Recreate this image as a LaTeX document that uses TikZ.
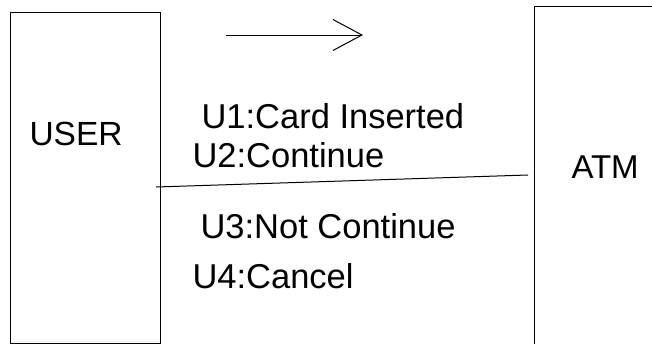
\documentclass[tikz,border=0pt]{standalone}
\usepackage{fontspec}
\setmainfont{Liberation Sans}
\usetikzlibrary{arrows.meta}

\begin{document}
\begin{tikzpicture}[x=1pt,y=-1pt,line width=1pt,
    every node/.style={inner sep=0pt,font=\fontsize{34.5}{40}\selectfont},
    lifebox/.style={draw,anchor=north west}]
      \useasboundingbox (0,0) rectangle (652,343);
      \clip (0,0) rectangle (652,343);

      % the two actors
      \node[lifebox,minimum width=150pt,minimum height=330.5pt] (user) at (10,12) {};
      \node[lifebox,minimum width=130pt,minimum height=350pt] (atm) at (534,6) {};
      \node[anchor=base west,font=\fontsize{33.5}{40}\selectfont] (usertext) at (29,145.5) {USER};
      \node[anchor=base west,font=\fontsize{33}{40}\selectfont] (atmtext) at (571,178.5) {ATM};

      % messages
      \node[anchor=base west] (u1) at (201,128.5) {U1:Card Inserted};
      \node[anchor=base west] (u2) at (192,167) {U2:Continue};
      \node[anchor=base west] (u3) at (200,238) {U3:Not Continue};
      \node[anchor=base west] (u4) at (192,288.5) {U4:Cancel};

      % link between them
      \coordinate (a) at (156,187);
      \coordinate (b) at (528,175);
      \draw (a) -- (b);

      % direction of the messages
      \coordinate (p) at (226,35);
      \coordinate (q) at (363,35);
      \draw[-{Straight Barb[length=29pt,width=31pt]}] (p) -- (q);
    \end{tikzpicture}
\end{document}
